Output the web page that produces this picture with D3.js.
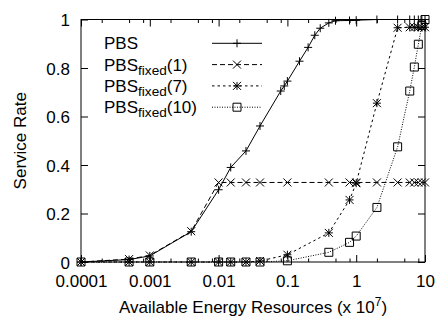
<!DOCTYPE html>
<html>
<head>
<meta charset="utf-8">
<script src="https://cdn.jsdelivr.net/npm/d3@7/dist/d3.min.js"></script>
<style>
  html, body { margin: 0; padding: 0; background: #fff; }
  svg { display: block; }
  text { font-family: "Liberation Sans", Arial, sans-serif; fill: #000; }
</style>
</head>
<body>
<svg id="chart" width="435" height="321"></svg>
<script>
// ---- data ----
const xTickValues = [0.0001, 0.001, 0.01, 0.1, 1, 10];
const xTickLabels = ["0.0001", "0.001", "0.01", "0.1", "1", "10"];
const yTickValues = [0, 0.2, 0.4, 0.6, 0.8, 1];
const yTickLabels = ["0", "0.2", "0.4", "0.6", "0.8", "1"];

const pbsX = [0.0001, 0.0005, 0.001, 0.004, 0.01, 0.015, 0.025, 0.04, 0.08, 0.09, 0.1, 0.15, 0.2, 0.25, 0.3, 0.4, 0.5, 0.8, 1, 2, 4, 6, 7, 8, 9, 10];
const pbsY = [0, 0.01, 0.025, 0.125, 0.298, 0.39, 0.458, 0.561, 0.705, 0.726, 0.746, 0.828, 0.885, 0.935, 0.964, 0.986, 0.995, 0.996, 0.997, 1, 1, 1, 1, 1, 1, 1];

const fixedX = [0.0001, 0.0005, 0.001, 0.004, 0.01, 0.015, 0.025, 0.04, 0.1, 0.4, 0.8, 1, 2, 4, 6, 7, 8, 9, 10];
const fixed1Y = [0, 0.012, 0.027, 0.127, 0.328, 0.328, 0.328, 0.328, 0.328, 0.328, 0.328, 0.328, 0.328, 0.328, 0.328, 0.328, 0.328, 0.328, 0.328];
const fixed7Y = [0, 0, 0, 0, 0, 0, 0, 0.004, 0.03, 0.12, 0.256, 0.325, 0.655, 0.966, 0.968, 0.968, 0.968, 0.968, 0.968];
const fixed10Y = [0, 0, 0, 0, 0, 0, 0, 0, 0.005, 0.04, 0.081, 0.107, 0.225, 0.475, 0.705, 0.804, 0.898, 0.975, 1.0];

const seriesNames = ["PBS", "fixed(1)", "fixed(7)", "fixed(10)"];

// ---- layout ----
const svg = d3.select("#chart");
const L = 81, R = 425, T = 19.5, B = 262;
const x = d3.scaleLog().domain([0.0001, 10]).range([L, R]);
const y = d3.scaleLinear().domain([0, 1]).range([B, T]);

const minorTicks = [];
for (let e = -4; e < 1; e++) {
  [2, 5, 8].forEach(m => minorTicks.push(m * Math.pow(10, e)));
}

// frame
svg.append("rect").attr("x", L).attr("y", T).attr("width", R - L).attr("height", B - T)
  .attr("fill", "none").attr("stroke", "#000").attr("stroke-width", 1);

function styleAxis(g) {
  g.select(".domain").remove();
  g.selectAll("line").attr("stroke", "#000");
}

// bottom
const xb = svg.append("g").attr("transform", `translate(0,${B})`)
  .call(d3.axisBottom(x).tickValues(xTickValues).tickSize(-7)
    .tickFormat((d, i) => xTickLabels[i]));
styleAxis(xb);
xb.selectAll("text").attr("y", 25).attr("dy", null).style("font-size", "17px");
svg.append("g").attr("transform", `translate(0,${B})`)
  .call(d3.axisBottom(x).tickValues(minorTicks).tickSize(-3.5).tickFormat(""))
  .call(styleAxis);
// top
svg.append("g").attr("transform", `translate(0,${T})`)
  .call(d3.axisTop(x).tickValues(xTickValues).tickSize(-7).tickFormat(""))
  .call(styleAxis);
svg.append("g").attr("transform", `translate(0,${T})`)
  .call(d3.axisTop(x).tickValues(minorTicks).tickSize(-3.5).tickFormat(""))
  .call(styleAxis);
// left
const yl = svg.append("g").attr("transform", `translate(${L},0)`)
  .call(d3.axisLeft(y).tickValues(yTickValues).tickSize(-7)
    .tickFormat((d, i) => yTickLabels[i]));
styleAxis(yl);
yl.selectAll("text").attr("x", -11).attr("dy", "0.36em").style("font-size", "17px");
// right
svg.append("g").attr("transform", `translate(${R},0)`)
  .call(d3.axisRight(y).tickValues(yTickValues).tickSize(-7).tickFormat(""))
  .call(styleAxis);

// axis labels
const xl = svg.append("text").attr("x", (L + R) / 2).attr("y", 313)
  .attr("text-anchor", "middle").style("font-size", "17px");
xl.append("tspan").text("Available Energy Resources (x 10");
xl.append("tspan").attr("dy", -7).style("font-size", "12px").text("7");
xl.append("tspan").attr("dy", 7).text(")");

svg.append("text").attr("transform", `translate(25.5,${(T + B) / 2}) rotate(-90)`)
  .attr("text-anchor", "middle").style("font-size", "17px").text("Service Rate");

// markers
function marker(g, type, cx, cy) {
  const s = 4;
  const p = d3.path();
  if (type === "plus" || type === "star") {
    p.moveTo(cx - s, cy); p.lineTo(cx + s, cy);
    p.moveTo(cx, cy - s); p.lineTo(cx, cy + s);
  }
  if (type === "cross" || type === "star") {
    p.moveTo(cx - s, cy - s); p.lineTo(cx + s, cy + s);
    p.moveTo(cx - s, cy + s); p.lineTo(cx + s, cy - s);
  }
  if (type === "square") {
    p.rect(cx - s, cy - s, 2 * s, 2 * s);
  }
  g.append("path").attr("d", p.toString()).attr("fill", "none")
    .attr("stroke", "#000").attr("stroke-width", 1);
}

const series = [
  { name: seriesNames[0], xs: pbsX, ys: pbsY, dash: null, mk: "plus" },
  { name: seriesNames[1], xs: fixedX, ys: fixed1Y, dash: "5,3", mk: "cross" },
  { name: seriesNames[2], xs: fixedX, ys: fixed7Y, dash: "2.5,3", mk: "star" },
  { name: seriesNames[3], xs: fixedX, ys: fixed10Y, dash: "1,1.5", mk: "square" }
];

const line = d3.line().x(d => x(d[0])).y(d => y(d[1]));

series.slice().reverse().forEach(s => {
  const pts = s.xs.map((v, i) => [v, s.ys[i]]);
  const g = svg.append("g");
  g.append("path").datum(pts).attr("d", line).attr("fill", "none")
    .attr("stroke", "#000").attr("stroke-width", 1)
    .attr("stroke-dasharray", s.dash);
  pts.forEach(p => marker(g, s.mk, x(p[0]), y(p[1])));
});

// legend
const legY0 = 43.3, legDY = 21.3;
series.forEach((s, i) => {
  const cy = legY0 + i * legDY;
  const t = svg.append("text").attr("x", 104).attr("y", cy + 6).style("font-size", "17px");
  if (i === 0) {
    t.text("PBS");
  } else {
    t.append("tspan").text("PBS");
    t.append("tspan").attr("dy", 4).style("font-size", "13.6px").text("fixed");
    t.append("tspan").attr("dy", -4).text(s.name.replace("fixed", ""));
  }
  svg.append("line").attr("x1", 212).attr("x2", 262).attr("y1", cy).attr("y2", cy)
    .attr("stroke", "#000").attr("stroke-width", 1).attr("stroke-dasharray", s.dash);
  marker(svg, s.mk, 237, cy);
});
</script>
</body>
</html>
